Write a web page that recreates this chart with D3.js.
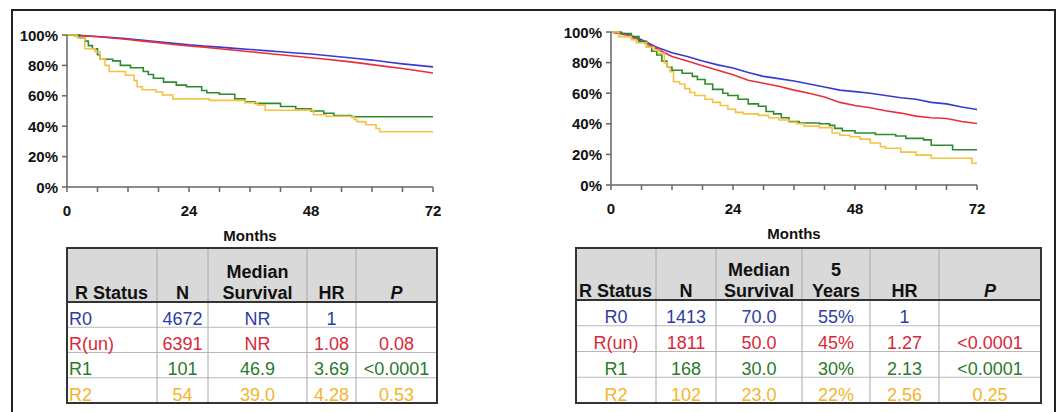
<!DOCTYPE html>
<html><head>
<meta charset="utf-8">
<script src="https://cdnjs.cloudflare.com/ajax/libs/d3/7.8.5/d3.min.js"></script>
<style>
  body { margin: 0; background: #fff; }
  svg { display: block; font-family: "Liberation Sans", Arial, sans-serif; }
  text.tick { font-weight: bold; font-size: 15px; fill: #111; }
  text.head { font-weight: bold; font-size: 18px; fill: #111; }
  text.cell { font-size: 18px; }
</style>
</head>
<body>
<svg id="chart" width="1059" height="412"></svg>
<script>
// ---- data: [month, survival %] ----
const groups = ["R0", "R(un)", "R1", "R2"];

const leftR0 = [[0,100],[3,99.6],[6,99],[9,98.3],[12,97.5],[15,96.5],[18,95.5],[21,94.5],[24,93.5],[27,92.8],[30,92],[33,91.2],[36,90.5],[39,89.7],[42,89],[45,88.2],[48,87.5],[51,86.5],[54,85.5],[57,84.5],[60,83.5],[63,82.2],[66,81],[69,80],[72,79]];
const leftRun = [[0,100],[3,99.5],[6,98.8],[9,98],[12,97],[15,96],[18,95],[21,93.8],[24,92.8],[27,92],[30,91],[33,90],[36,89],[39,88],[42,87],[45,86],[48,85],[51,84],[54,83],[57,81.8],[60,80.5],[63,79.2],[66,78],[69,76.5],[72,75]];
const leftR1 = [[0,100],[2.5,98],[3.5,96],[4.2,93],[5,91],[6,87],[6.5,84],[9,83],[10.5,80],[12.5,78.5],[15,76],[16,74],[17,71.5],[19,69],[21.5,67],[23.5,66],[26.5,63.5],[27.5,62],[30,61],[33,58],[35,56],[37,55],[42,53],[45,51.5],[48,50],[50.5,48.5],[52.5,47],[56,46.2],[72,46.2]];
const leftR2 = [[0,100],[2,98],[3.5,91],[5.5,89],[6.5,84],[7.5,80],[8.3,76],[11.5,73.5],[13.2,70],[13.8,66],[14.8,64],[17.5,62.5],[18.8,60.5],[20.8,58],[28,57],[35,55.5],[37.5,54],[39,50.5],[48.5,47.5],[51,46.5],[56.5,44.5],[57,43],[58.8,41],[60.8,38.5],[61.5,36.3],[72,36.3]];

const rightR0 = [[0,100],[3,98.8],[6,95],[9,90],[12,86.5],[15,84],[18,81],[21,78.5],[24,76.5],[27,73.5],[30,71],[33,69.5],[36,68],[39,66],[42,64],[45,62],[48,61],[51,60],[54,58.5],[57,57],[60,56],[63,54],[66,53],[69,51],[72,49.3]];
const rightRun = [[0,100],[3,98],[6,94],[9,89],[12,84],[15,81],[18,78],[21,75],[24,72],[27,68.5],[30,66.5],[33,64.5],[36,62],[39,60],[42,57.5],[45,54],[48,52],[51,50.5],[54,48.5],[57,47],[60,45],[63,44],[66,43.5],[69,41.5],[72,40.2]];
const rightR1 = [[0,100],[2,99],[4,97],[5.5,94],[7,90],[8,87.5],[9,85],[10,81],[11,77],[12,75],[14,73],[16,71],[17,69],[18.5,66],[20,62.5],[22,60],[23,58.5],[25,56],[27,53],[29,51.5],[30.5,48],[32,46.5],[33.5,44],[35,41.5],[37,40.5],[41,40],[43,39],[44,37],[45.5,35.5],[48,34],[52,33],[56,32],[58,30.5],[61.5,29.5],[63,26],[67,26],[67.2,23],[72,23]];
const rightR2 = [[0,100],[1.5,97],[4,95],[5,93],[7,90],[8.5,88],[9.5,86],[10.5,80],[11,77],[11.6,74],[12.3,67.5],[13.5,66],[14.5,63],[15.5,60.5],[16.5,58.5],[18.5,56],[20,54],[21.5,52],[23,49.5],[24.5,47.5],[26,46.5],[29,45.5],[31,44],[33,42.5],[35,41],[36.5,40],[38,38.5],[41,37.5],[43.5,34],[45,32.5],[47,31.5],[49,30],[51,27.5],[53,25],[54,24],[57,21.5],[60,19.5],[63,17.5],[70.5,17.5],[71,14.2],[72,14.2]];

const xTickVals = [0,6,12,18,24,30,36,42,48,54,60,66,72];
const xTickLabels = [0,24,48,72];
const yTickVals = [0,20,40,60,80,100];

// ---- table contents ----
const leftHeader = [["R Status"], ["N"], ["Median","Survival"], ["HR"], ["P"]];
const leftN = ["4672","6391","101","54"];
const leftMedian = ["NR","NR","46.9","39.0"];
const leftHR = ["1","1.08","3.69","4.28"];
const leftP = ["","0.08","<0.0001","0.53"];

const rightHeader = [["R Status"], ["N"], ["Median","Survival"], ["5","Years"], ["HR"], ["P"]];
const rightN = ["1413","1811","168","102"];
const rightMedian = ["70.0","50.0","30.0","23.0"];
const rightFive = ["55%","45%","30%","22%"];
const rightHR = ["1","1.27","2.13","2.56"];
const rightP = ["","<0.0001","<0.0001","0.25"];

const lineColors = ["#3a3ad0", "#e8303c", "#2f8a2f", "#f6c240"];
const textColors = ["#2e3ca6", "#d8283a", "#2a7a2a", "#f3b52a"];

const svg = d3.select("#chart");

// outer frame
svg.append("path").attr("d", "M12,420 V10 H1055 V420")
   .attr("fill", "none").attr("stroke", "#222").attr("stroke-width", 2);

function drawPanel(p, series, steps) {
  const x = d3.scaleLinear().domain([0,72]).range([p.x0, p.x1]);
  const y = d3.scaleLinear().domain([0,100]).range([p.yBot, p.yTop]);
  const g = svg.append("g");

  series.forEach((s, i) => {
    const line = d3.line().x(d => x(d[0])).y(d => y(d[1]))
                   .curve(steps[i] ? d3.curveStepAfter : d3.curveLinear);
    g.append("path").datum(s).attr("d", line)
     .attr("fill", "none").attr("stroke", lineColors[i]).attr("stroke-width", 1.6);
  });

  // axes
  const ax = g.append("g").attr("stroke", "#666").attr("stroke-width", 1.5);
  ax.append("line").attr("x1", x(0)).attr("x2", x(0)).attr("y1", y(100)).attr("y2", y(0));
  ax.append("line").attr("x1", x(0)).attr("x2", x(72)).attr("y1", y(0)).attr("y2", y(0));
  ax.selectAll("line.yt").data(yTickVals).join("line").attr("class","yt")
    .attr("x1", x(0) - 5).attr("x2", x(0)).attr("y1", d => y(d)).attr("y2", d => y(d));
  ax.selectAll("line.xt").data(xTickVals).join("line").attr("class","xt")
    .attr("x1", d => x(d)).attr("x2", d => x(d)).attr("y1", y(0)).attr("y2", y(0) + 5);

  g.selectAll("text.ylab").data(yTickVals).join("text")
    .attr("class", "tick ylab").attr("text-anchor", "end")
    .attr("x", x(0) - 9).attr("y", d => y(d) + 5.5).text(d => d + "%");
  g.selectAll("text.xlab").data(xTickLabels).join("text")
    .attr("class", "tick xlab").attr("text-anchor", "middle")
    .attr("x", d => x(d)).attr("y", p.labelY).text(d => d);
  g.append("text").attr("class", "tick").attr("text-anchor", "middle")
    .attr("x", (x(0) + x(72)) / 2).attr("y", p.monthsY).text("Months");
}

drawPanel({x0:67, x1:433, yTop:35, yBot:187, labelY:216, monthsY:241},
          [leftR0, leftRun, leftR1, leftR2], [false, false, true, true]);
drawPanel({x0:611, x1:977, yTop:32, yBot:185, labelY:214, monthsY:239},
          [rightR0, rightRun, rightR1, rightR2], [false, false, true, true]);

function drawTable(t, header, cols) {
  const g = svg.append("g");
  const edges = t.edges;
  const left = edges[0], right = edges[edges.length - 1];
  const rowH = (t.bottom - t.headBot) / groups.length;

  g.append("rect").attr("x", left).attr("y", t.top)
   .attr("width", right - left).attr("height", t.headBot - t.top).attr("fill", "#d9d9d9");

  // row separators
  g.selectAll("line.row").data(d3.range(1, groups.length)).join("line")
   .attr("x1", left).attr("x2", right)
   .attr("y1", d => t.headBot + d * rowH).attr("y2", d => t.headBot + d * rowH)
   .attr("stroke", "#b8b8b8").attr("stroke-width", 1);
  // column separators
  g.selectAll("line.col").data(edges.slice(1, -1)).join("line")
   .attr("x1", d => d).attr("x2", d => d).attr("y1", t.top).attr("y2", t.bottom)
   .attr("stroke", "#a8a8a8").attr("stroke-width", 1);
  // header bottom and outer border
  g.append("line").attr("x1", left).attr("x2", right).attr("y1", t.headBot).attr("y2", t.headBot)
   .attr("stroke", "#333").attr("stroke-width", 2);
  g.append("rect").attr("x", left).attr("y", t.top)
   .attr("width", right - left).attr("height", t.bottom - t.top)
   .attr("fill", "none").attr("stroke", "#333").attr("stroke-width", 2);

  // header text
  header.forEach((lines, c) => {
    const cx = c === 0 ? edges[0] + t.headPad : (edges[c] + edges[c + 1]) / 2;
    lines.forEach((ln, k) => {
      g.append("text").attr("class", "head")
       .attr("text-anchor", c === 0 ? "start" : "middle")
       .attr("font-style", ln === "P" ? "italic" : null)
       .attr("x", cx).attr("y", t.headBot - 3 - (lines.length - 1 - k) * 21)
       .text(ln);
    });
  });

  // body text
  cols.forEach((vals, c) => {
    const anchor = (c === 0 && t.leftFirst) ? "start" : "middle";
    const cx = anchor === "start" ? edges[0] + 2 : (edges[c] + edges[c + 1]) / 2;
    g.selectAll("text.c" + c).data(vals).join("text")
     .attr("class", "cell c" + c).attr("text-anchor", anchor)
     .attr("x", cx).attr("y", (d, i) => t.headBot + (i + 1) * rowH - 2.5)
     .attr("fill", (d, i) => textColors[i]).text(d => d);
  });
}

drawTable({edges:[67,157,208,307,356,437], top:248, headBot:302, bottom:403, headPad:8, leftFirst:true},
          leftHeader, [groups, leftN, leftMedian, leftHR, leftP]);
drawTable({edges:[576,656,716,802,870,939,1041], top:248, headBot:300, bottom:403, headPad:3, leftFirst:false},
          rightHeader, [groups, rightN, rightMedian, rightFive, rightHR, rightP]);
</script>
</body>
</html>
